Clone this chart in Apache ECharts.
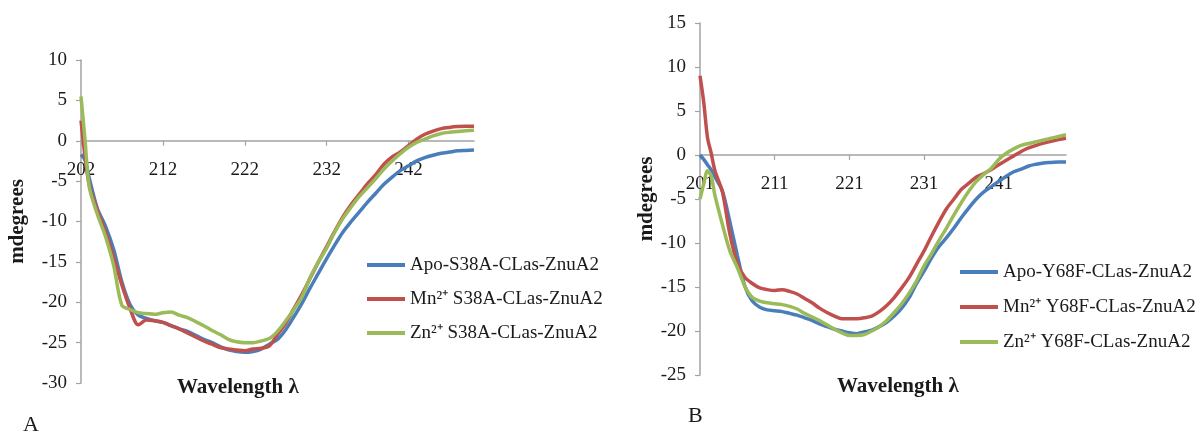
<!DOCTYPE html>
<html>
<head>
<meta charset="utf-8">
<script src="https://cdn.jsdelivr.net/npm/echarts@6/dist/echarts.min.js"></script>
<style>
  html, body { margin: 0; padding: 0; background: #fff; }
  #chart { width: 1203px; height: 434px; }
</style>
</head>
<body>
<div id="chart"></div>
<script>
// CD spectra, panel A (S38A mutant)
const wavelengthA = [202, 202.5, 203, 204, 205, 206, 207, 208, 209, 210, 211, 212, 213, 214, 215, 216, 217, 218, 219, 220,
  221, 222, 223, 224, 225, 226, 227, 228, 229, 230, 231, 232, 233, 234, 235, 236, 237, 238, 239, 240,
  241, 242, 243, 244, 245, 246, 247, 248, 249, 250];
const apoA = [-1.7, -2.4, -4.6, -8.4, -10.6, -13.5, -17.5, -20.3, -21.6, -22.0, -22.3, -22.5, -22.9, -23.3, -23.6, -24.1, -24.6, -25.0, -25.5, -25.9,
  -26.1, -26.2, -26.1, -25.8, -25.2, -24.6, -23.4, -21.8, -20.1, -18.2, -16.4, -14.6, -12.9, -11.3, -10.0, -8.8, -7.6, -6.5, -5.4, -4.5,
  -3.7, -3.1, -2.5, -2.1, -1.8, -1.55, -1.4, -1.25, -1.2, -1.15];
const mnA = [2.5, -2.0, -5.4, -8.6, -11.3, -14.5, -17.9, -20.8, -22.8, -22.2, -22.3, -22.5, -22.9, -23.3, -23.8, -24.3, -24.8, -25.2, -25.6, -25.8,
  -25.9, -26.0, -25.8, -25.7, -25.4, -24.0, -22.6, -20.8, -19.0, -17.0, -15.0, -13.1, -11.2, -9.4, -7.9, -6.6, -5.3, -4.2, -2.9, -2.0,
  -1.4, -0.6, 0.2, 0.8, 1.2, 1.5, 1.65, 1.75, 1.8, 1.8];
const znA = [5.5, 0.0, -5.7, -9.1, -11.9, -15.5, -20.4, -20.9, -21.3, -21.4, -21.5, -21.3, -21.2, -21.6, -21.9, -22.4, -22.9, -23.5, -24.0, -24.6,
  -24.9, -25.0, -25.0, -24.8, -24.5, -23.6, -22.3, -20.9, -19.3, -16.9, -15.0, -13.3, -11.3, -9.6, -8.2, -6.9, -5.8, -4.7, -3.5, -2.5,
  -1.6, -0.8, -0.2, 0.2, 0.6, 0.9, 1.05, 1.15, 1.25, 1.3];
const ticksA = [202, 212, 222, 232, 242];
const namesA = ['Apo-S38A-CLas-ZnuA2', 'Mn²⁺ S38A-CLas-ZnuA2', 'Zn²⁺ S38A-CLas-ZnuA2'];

// CD spectra, panel B (Y68F mutant)
const wavelengthB = [201, 201.5, 202, 202.5, 203, 204, 205, 206, 207, 208, 209, 210, 211, 212, 213, 214, 215, 216, 217, 218, 219, 220,
  221, 222, 223, 224, 225, 226, 227, 228, 229, 230, 231, 232, 233, 234, 235, 236, 237, 238, 239, 240,
  241, 242, 243, 244, 245, 246, 247, 248, 249, 250];
const apoB = [0, -0.5, -1.1, -1.7, -2.5, -4.1, -7.6, -11.4, -14.9, -16.6, -17.3, -17.6, -17.7, -17.8, -18.0, -18.2, -18.5, -18.8, -19.2, -19.5, -19.8, -20.0,
  -20.2, -20.3, -20.1, -19.9, -19.5, -19.0, -18.3, -17.4, -16.2, -14.6, -13.2, -11.7, -10.4, -9.4, -8.3, -7.1, -6.0, -5.0, -4.2, -3.6,
  -3.0, -2.4, -1.9, -1.6, -1.25, -1.05, -0.9, -0.85, -0.8, -0.8];
const mnB = [9.0, 6.0, 2.0, 0.2, -1.8, -4.2, -9.0, -12.3, -13.9, -14.6, -15.1, -15.3, -15.4, -15.3, -15.5, -15.8, -16.3, -16.8, -17.4, -17.9, -18.3, -18.6,
  -18.6, -18.6, -18.5, -18.3, -17.8, -17.1, -16.2, -15.1, -13.9, -12.4, -10.9, -9.2, -7.6, -6.1, -5.0, -3.9, -3.2, -2.5, -2.1, -1.65,
  -1.1, -0.6, -0.1, 0.4, 0.8, 1.1, 1.35, 1.55, 1.75, 1.9];
const znB = [-5.0, -3.3, -1.8, -2.4, -4.6, -7.9, -10.9, -12.8, -14.9, -16.2, -16.6, -16.8, -16.9, -17.0, -17.2, -17.5, -18.0, -18.4, -18.8, -19.3, -19.8, -20.2,
  -20.5, -20.5, -20.4, -20.0, -19.5, -18.8, -17.9, -16.9, -15.7, -14.3, -12.6, -11.2, -9.7, -8.3, -6.8, -5.4, -4.1, -3.0, -2.2, -1.5,
  -0.5, 0.2, 0.7, 1.1, 1.3, 1.5, 1.7, 1.9, 2.1, 2.3];
const ticksB = [201, 211, 221, 231, 241];
const namesB = ['Apo-Y68F-CLas-ZnuA2', 'Mn²⁺ Y68F-CLas-ZnuA2', 'Zn²⁺ Y68F-CLas-ZnuA2'];

const colors = ['#4a7ebb', '#c0504d', '#9bbb59'];
const FONT = "'Liberation Serif', 'Times New Roman', serif";
const AXIS_GREY = '#a3a3a3';
const TEXT = '#1a1a1a';

const gridA = { left: 81, top: 60, width: 393, height: 323 };
const gridB = { left: 700, top: 23, width: 366, height: 352 };
const rangeA = [-30, 10];
const rangeB = [-25, 15];

const pairs = (xs, ys) => xs.map((x, i) => [x, ys[i]]);

// lift the wavelength axis from the grid bottom up to the zero line of the value axis
const zeroOffset = (grid, range) => -grid.height * (0 - range[0]) / (range[1] - range[0]);

function xAxisFor(gridIndex, min, ticks, grid, range) {
  return {
    type: 'value', gridIndex, min, max: 250, position: 'bottom',
    offset: zeroOffset(grid, range),
    axisLine: { onZero: false, lineStyle: { color: AXIS_GREY, width: 1.5 } },
    axisTick: { show: true, length: 5, lineStyle: { color: AXIS_GREY, width: 1.2 }, customValues: ticks },
    axisLabel: { color: TEXT, fontFamily: FONT, fontSize: 19, margin: 20, customValues: ticks },
    splitLine: { show: false }
  };
}

function yAxisFor(gridIndex, range, nameGap) {
  return {
    type: 'value', gridIndex, min: range[0], max: range[1], interval: 5,
    name: 'mdegrees', nameLocation: 'middle', nameGap, nameRotate: 90,
    nameTextStyle: { color: TEXT, fontFamily: FONT, fontSize: 21, fontWeight: 'bold' },
    axisLine: { show: true, onZero: false, lineStyle: { color: AXIS_GREY, width: 1.5 } },
    axisTick: { show: true, length: 5, lineStyle: { color: AXIS_GREY, width: 1.2 } },
    axisLabel: { color: TEXT, fontFamily: FONT, fontSize: 19, margin: 14 },
    splitLine: { show: false }
  };
}

function lineSeries(name, xi, data, color) {
  return {
    type: 'line', name, xAxisIndex: xi, yAxisIndex: xi, data,
    showSymbol: false, smooth: 0.3,
    lineStyle: { color, width: 3.5 }, itemStyle: { color },
    emphasis: { disabled: true }
  };
}

const legendBase = {
  orient: 'vertical', padding: 0, icon: 'rect', itemWidth: 38, itemHeight: 4,
  textStyle: { color: TEXT, fontFamily: FONT, fontSize: 19, lineHeight: 20 },
  selectedMode: false
};

const labelStyle = { color: TEXT, fontFamily: FONT, fontSize: 21, fontWeight: 'bold' };

const chart = echarts.init(document.getElementById('chart'), null, { renderer: 'canvas' });
chart.setOption({
  backgroundColor: '#ffffff',
  animation: false,
  title: [
    { text: 'Wavelength λ', left: 177, top: 377, padding: 0, textStyle: labelStyle },
    { text: 'Wavelength λ', left: 837, top: 376, padding: 0, textStyle: labelStyle },
    { text: 'A', left: 23, top: 414, padding: 0, textStyle: { color: TEXT, fontFamily: FONT, fontSize: 22, fontWeight: 'normal' } },
    { text: 'B', left: 688, top: 405, padding: 0, textStyle: { color: TEXT, fontFamily: FONT, fontSize: 22, fontWeight: 'normal' } }
  ],
  grid: [gridA, gridB],
  xAxis: [xAxisFor(0, 202, ticksA, gridA, rangeA), xAxisFor(1, 201, ticksB, gridB, rangeB)],
  yAxis: [yAxisFor(0, rangeA, 53), yAxisFor(1, rangeB, 42)],
  legend: [
    Object.assign({}, legendBase, { data: namesA, left: 367, top: 255, itemGap: 14 }),
    Object.assign({}, legendBase, { data: namesB, left: 960, top: 262, itemGap: 15 })
  ],
  series: [
    lineSeries(namesA[0], 0, pairs(wavelengthA, apoA), colors[0]),
    lineSeries(namesA[1], 0, pairs(wavelengthA, mnA), colors[1]),
    lineSeries(namesA[2], 0, pairs(wavelengthA, znA), colors[2]),
    lineSeries(namesB[0], 1, pairs(wavelengthB, apoB), colors[0]),
    lineSeries(namesB[1], 1, pairs(wavelengthB, mnB), colors[1]),
    lineSeries(namesB[2], 1, pairs(wavelengthB, znB), colors[2])
  ]
});
</script>
</body>
</html>
